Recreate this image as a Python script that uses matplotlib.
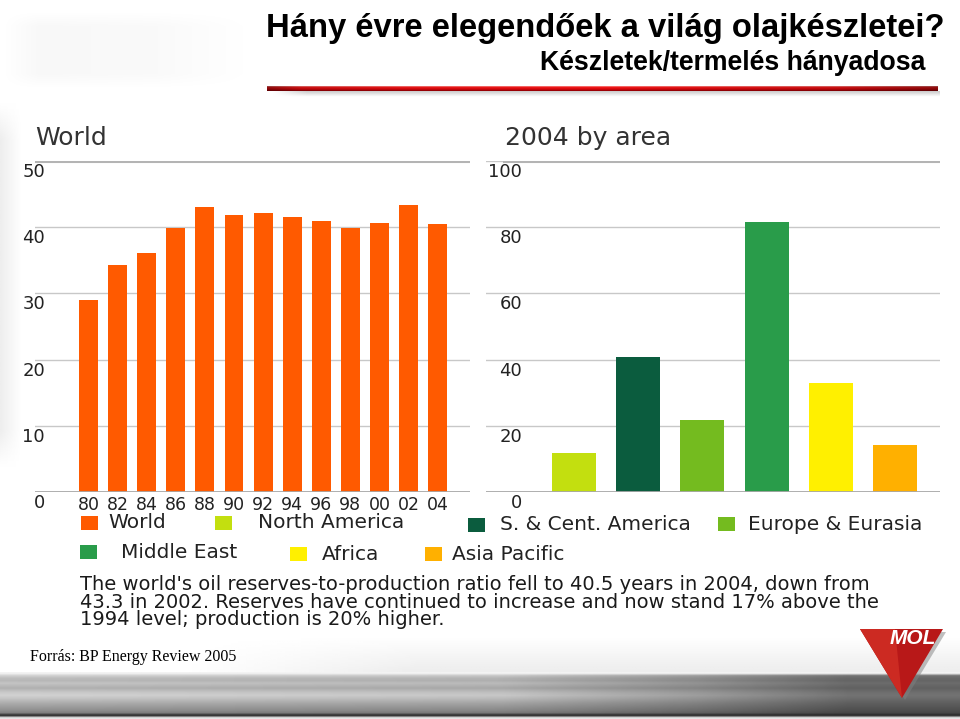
import matplotlib
matplotlib.use('Agg')
import matplotlib.pyplot as plt
import numpy as np
from matplotlib.patches import Rectangle, Polygon
from matplotlib import transforms

# ---------------- data ----------------
years = ['80', '82', '84', '86', '88', '90', '92', '94', '96', '98', '00', '02', '04']
world_ratio = [29.0, 34.3, 36.1, 39.9, 43.1, 41.9, 42.1, 41.5, 41.0, 39.9, 40.7, 43.3, 40.5]
areas = ['North America', 'S. & Cent. America', 'Europe & Eurasia',
         'Middle East', 'Africa', 'Asia Pacific']
area_ratio_2004 = [11.8, 40.9, 21.7, 81.6, 33.0, 14.2]
area_colors = ['#c3df0f', '#0b5c3e', '#74bb1f', '#299c4a', '#fff000', '#ffb000']
world_color = '#ff5a00'
left_yticks = [0, 10, 20, 30, 40, 50]
right_yticks = [0, 20, 40, 60, 80, 100]

title = 'Hány évre elegendőek a világ olajkészletei?'
subtitle = 'Készletek/termelés hányadosa'
note = ["The world's oil reserves-to-production ratio fell to 40.5 years in 2004, down from",
        "43.3 in 2002. Reserves have continued to increase and now stand 17% above the",
        "1994 level; production is 20% higher."]
source = 'Forrás: BP Energy Review 2005'

W, H = 960, 719
fig = plt.figure(figsize=(9.6, 7.19), dpi=100)
fig.patch.set_facecolor('white')


def fx(x):
    return x / W


def fy(y):
    return 1 - y / H


def ax_rect(x0, y0, x1, y1):
    return [x0 / W, 1 - y1 / H, (x1 - x0) / W, (y1 - y0) / H]


# ---------------- decorations (pixel coords) ----------------
dax = fig.add_axes([0, 0, 1, 1], zorder=0)
dax.set_xlim(0, W)
dax.set_ylim(H, 0)
dax.axis('off')

# faint streaks top-left
xs = np.linspace(0, 1, 260)
ys = np.linspace(0, 1, 80)
hx = np.interp(xs, [0, 0.15, 0.6, 1.0], [0.0, 1.0, 0.8, 0.0])
vy = np.interp(ys, [0, 0.2, 0.8, 1.0], [0.0, 1.0, 1.0, 0.0])
streak = 1 - 0.03 * np.outer(vy, hx)
dax.imshow(streak, extent=(0, 260, 90, 10), cmap='gray', vmin=0, vmax=1,
           aspect='auto', interpolation='bilinear')
# left vertical strip
g2 = np.linspace(0.93, 1.0, 40)[None, :]
vy2 = np.interp(np.linspace(0, 1, 60), [0, 0.1, 0.9, 1.0], [0, 1, 1, 0])
strip = 1 - np.outer(vy2, 1 - g2[0])
dax.imshow(strip, extent=(0, 22, 470, 100), cmap='gray', vmin=0, vmax=1,
           aspect='auto', interpolation='bilinear')

# red title line
ncol = 400
hpos = np.linspace(0, 1, ncol)
hfac = np.interp(hpos, [0, 0.05, 0.2, 0.5, 0.85, 1.0], [0.62, 0.85, 0.95, 1.0, 0.85, 0.62])
vrows = [np.array([0.97, 0.40, 0.40]), np.array([0.93, 0.10, 0.10]),
         np.array([0.88, 0.04, 0.06]), np.array([0.78, 0.02, 0.04]),
         np.array([0.62, 0.0, 0.02])]
red = np.zeros((len(vrows), ncol, 3))
for i, c in enumerate(vrows):
    red[i] = np.clip(np.outer(hfac, c), 0, 1)
dax.imshow(red, extent=(267, 938, 91, 86), aspect='auto', interpolation='bilinear')
sh = np.linspace(0.80, 1.0, 8)[:, None]
shh = np.interp(np.linspace(0, 1, 100), [0, 0.05, 1], [1.0, 0.0, 0.0])[None, :]
shadow = sh + (1 - sh) * shh
dax.imshow(shadow, extent=(270, 940, 97, 91), cmap='gray',
           vmin=0, vmax=1, aspect='auto', interpolation='bilinear')

# bottom metallic band (lighter on the left, darker on the right)
prof = np.array([0.95, 0.82, 0.74, 0.72, 0.77, 0.73, 0.69, 0.75, 0.80, 0.82, 0.78,
                 0.73, 0.68, 0.64, 0.60, 0.56, 0.50, 0.15, 0.9])
hshade = np.interp(np.linspace(0, 960, 200), [0, 500, 700, 850, 960],
                   [1.0, 0.95, 0.75, 0.55, 0.55])
band = np.outer(prof, hshade)
band[0, :] = 0.95
band[-2, :] = 0.15
band[-1, :] = 0.9
dax.imshow(band, extent=(0, 960, 719, 672), cmap='gray', vmin=0, vmax=1,
           aspect='auto', interpolation='bilinear')
# faint area above band
g3 = np.linspace(1.0, 0.93, 20)[:, None]
hh3 = np.interp(np.linspace(0, 1, 100), [0, 0.3, 1], [1.0, 0.0, 0.0])[None, :]
dax.imshow(g3 + (1 - g3) * hh3, extent=(180, 960, 672, 635), cmap='gray',
           vmin=0, vmax=1, aspect='auto', interpolation='bilinear')

# MOL logo
dax.add_patch(Polygon([(863, 632), (946, 632), (905, 700)], closed=True,
                      facecolor='#808080', edgecolor='none', alpha=0.5, zorder=5))
dax.add_patch(Polygon([(860, 629), (943, 629), (902, 698)], closed=True,
                      facecolor='#b81818', edgecolor='none', zorder=5))
dax.add_patch(Polygon([(860, 629), (895, 629), (902, 698)], closed=True,
                      facecolor='#cc2a22', edgecolor='none', zorder=5))
dax.text(913, 638, 'MOL', color='white', fontsize=15, fontweight='heavy',
         style='italic', ha='center', va='center', zorder=6,
         family=['Liberation Sans', 'DejaVu Sans'])

# ---------------- header ----------------
hfam = ['Liberation Sans Narrow', 'Liberation Sans', 'DejaVu Sans']
fig.text(fx(945), fy(29), title, ha='right', va='center', fontsize=23.6,
         fontweight='bold', family=hfam, color='black')
fig.text(fx(925), fy(63), subtitle, ha='right', va='center', fontsize=19.2,
         fontweight='bold', family=hfam, color='black')

# ---------------- left chart ----------------
axL = fig.add_axes(ax_rect(35, 161, 470, 492), zorder=2)
x = np.arange(len(years))
axL.bar(x, world_ratio, width=0.65, color=world_color, zorder=3)
axL.set_xlim(-1.84, 13.11)
axL.set_ylim(0, 50)
axL.set_yticks(left_yticks)
axL.yaxis.grid(True, color='#c8c8c8', lw=1)
axL.set_axisbelow(True)
for s in axL.spines.values():
    s.set_visible(False)
axL.set_facecolor('none')
axL.tick_params(axis='both', length=0)
axL.set_yticklabels([])
axL.set_xticks(x, years, fontsize=12.5, color='#222222')
axL.tick_params(axis='x', pad=3)
axL.axhline(50, color='#b4b4b4', lw=2.2, zorder=2)
axL.axhline(0, color='#a8a8a8', lw=2, zorder=4)
tL = transforms.offset_copy(
    transforms.blended_transform_factory(fig.transFigure, axL.transData),
    fig=fig, y=-11, units='dots')
for v in left_yticks:
    axL.text(fx(45), v, str(v), transform=tL, ha='right', va='center',
             fontsize=13, color='#222222', clip_on=False)

# ---------------- right chart ----------------
axR = fig.add_axes(ax_rect(486, 161, 940, 492), zorder=2)
xr = np.arange(len(areas))
axR.bar(xr, area_ratio_2004, width=0.685, color=area_colors, zorder=3)
axR.set_xlim(-1.37, 5.70)
axR.set_ylim(0, 100)
axR.set_yticks(right_yticks)
axR.yaxis.grid(True, color='#c8c8c8', lw=1)
axR.set_axisbelow(True)
for s in axR.spines.values():
    s.set_visible(False)
axR.set_facecolor('none')
axR.tick_params(axis='both', length=0)
axR.set_yticklabels([])
axR.set_xticks([])
axR.axhline(100, color='#b4b4b4', lw=2.2, zorder=2, xmin=0.04)
axR.axhline(0, color='#a8a8a8', lw=2, zorder=4)
tR = transforms.offset_copy(
    transforms.blended_transform_factory(fig.transFigure, axR.transData),
    fig=fig, y=-11, units='dots')
for v in right_yticks:
    axR.text(fx(522), v, str(v), transform=tR, ha='right', va='center',
             fontsize=13, color='#222222', clip_on=False)

# panel titles
fig.text(fx(35), fy(138), 'World', fontsize=18, va='center', color='#333333')
fig.text(fx(505), fy(138), '2004 by area', fontsize=18, va='center', color='#333333')

# ---------------- legend ----------------
leg_labels = ['World'] + areas
leg_colors = [world_color] + area_colors
leg_sq_x = [81, 215, 468, 718, 80, 290, 425]
leg_tx_x = [108, 258, 500, 748, 121, 322, 452]
leg_y = [523, 523, 525, 524, 552, 554, 554]
for lab, col, sx, tx, yy in zip(leg_labels, leg_colors, leg_sq_x, leg_tx_x, leg_y):
    dax.add_patch(Rectangle((sx, yy - 7), 17, 14, facecolor=col, edgecolor='none', zorder=5))
    dax.text(tx, yy, lab, fontsize=14.5, va='center', ha='left', color='#222222', zorder=5)

# ---------------- note ----------------
dax.text(80, 602, '\n'.join(note), fontsize=14, va='center', ha='left',
         color='#1a1a1a', zorder=5, linespacing=0.93)

dax.text(30, 657, source, fontsize=11.5, va='center', ha='left', color='black',
         family=['Liberation Serif', 'DejaVu Serif'], zorder=5)

fig.savefig('out.png', dpi=100, facecolor='white')
